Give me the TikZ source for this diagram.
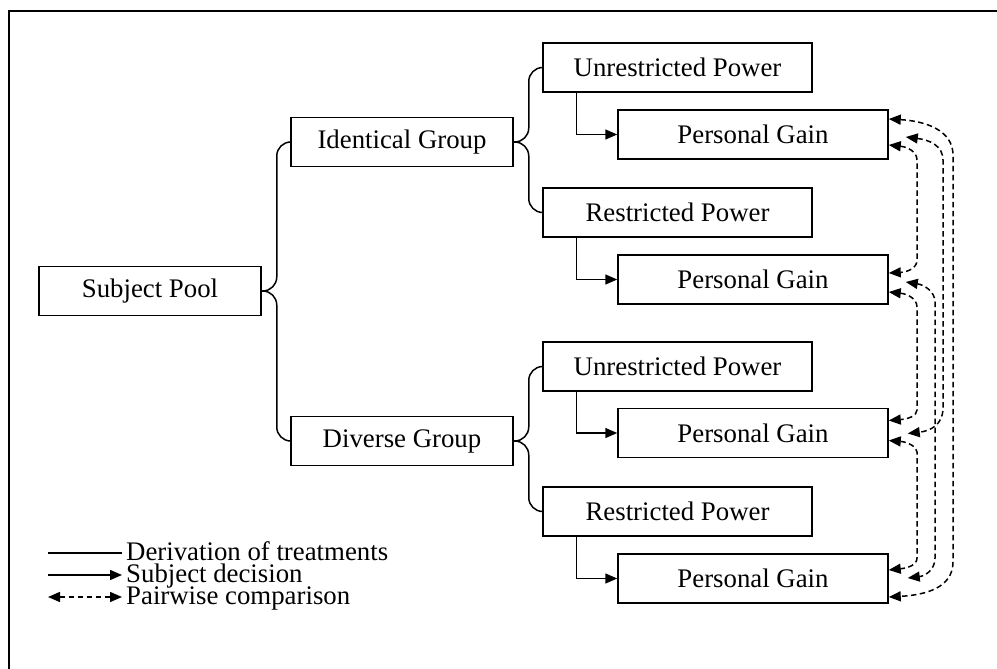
\documentclass[tikz,border=0pt]{standalone}
\usepackage{fontspec}
\setmainfont{Liberation Serif}
\usetikzlibrary{arrows.meta,calc}
\begin{document}
\begin{tikzpicture}[x=1pt,y=-1pt,
  every node/.style={font=\fontsize{26.8}{30}\selectfont},
  box/.style={draw,line width=1.5pt,inner sep=0pt,minimum height=49pt},
  bw/.style={box,minimum width=222pt},
  pw/.style={box,minimum width=269pt},
  gw/.style={box,minimum width=270pt},
  deriv/.style={line width=1.5pt,rounded corners=14pt},
  dec/.style={line width=1.5pt,-{Triangle[length=12pt,width=10pt]}},
  cmp/.style={line width=1.5pt,dash pattern=on 5.5pt off 3.5pt,{Triangle[length=12pt,width=10pt]}-{Triangle[length=12pt,width=10pt]}},
  lgtext/.style={anchor=base west,inner sep=0pt}
]
\useasboundingbox (0,0) rectangle (997,669);
% frame
\draw[line width=1.6pt] (9,669) -- (9,11) -- (997,11);

% nodes
\node[bw] (sp) at (150,291) {Subject Pool};
\node[bw] (ig) at (402,142) {Identical Group};
\node[bw] (dg) at (402,441) {Diverse Group};
\node[pw] (up1) at (677.5,67.5) {Unrestricted Power};
\node[pw] (rp1) at (677.5,212.5) {Restricted Power};
\node[pw] (up2) at (677.5,366.5) {Unrestricted Power};
\node[pw] (rp2) at (677.5,511.5) {Restricted Power};
\node[gw] (pg1) at (753,134.5) {Personal Gain};
\node[gw] (pg2) at (753,279.5) {Personal Gain};
\node[gw] (pg3) at (753,433) {Personal Gain};
\node[gw] (pg4) at (753,578.5) {Personal Gain};

% derivation braces
\draw[deriv] (ig.west) -| ($(sp.east)+(15,0)$) -- (sp.east);
\draw[deriv] (dg.west) -| ($(sp.east)+(15,0)$) -- (sp.east);
\draw[deriv] (up1.west) -| ($(ig.east)+(15,0)$) -- (ig.east);
\draw[deriv] (rp1.west) -| ($(ig.east)+(15,0)$) -- (ig.east);
\draw[deriv] (up2.west) -| ($(dg.east)+(15,0)$) -- (dg.east);
\draw[deriv] (rp2.west) -| ($(dg.east)+(15,0)$) -- (dg.east);

% subject decisions
\draw[dec] ($(up1.south west)+(34,0)$) |- (pg1.west);
\draw[dec] ($(rp1.south west)+(34,0)$) |- (pg2.west);
\draw[dec] ($(up2.south west)+(34,0)$) |- (pg3.west);
\draw[dec] ($(rp2.south west)+(34,0)$) |- (pg4.west);

% comparison end points
\coordinate (p1a) at ($(pg1.east)+(0,-15.5)$);
\coordinate (p1b) at ($(pg1.east)+(17,2.5)$);
\coordinate (p1c) at ($(pg1.east)+(0,10.5)$);
\coordinate (p2a) at ($(pg2.east)+(0,-6.5)$);
\coordinate (p2b) at ($(pg2.east)+(17,2.5)$);
\coordinate (p2c) at ($(pg2.east)+(0,12.5)$);
\coordinate (p3a) at ($(pg3.east)+(0,-12.5)$);
\coordinate (p3b) at ($(pg3.east)+(19,0.5)$);
\coordinate (p3c) at ($(pg3.east)+(0,7.5)$);
\coordinate (p4a) at ($(pg4.east)+(0,-8.5)$);
\coordinate (p4b) at ($(pg4.east)+(19,-0.5)$);
\coordinate (p4c) at ($(pg4.east)+(0,18.5)$);

% pairwise comparisons
\draw[cmp] (p1a) .. controls (925,121) and (953,130) .. (953,155) -- (953,562) .. controls (953,588) and (925,595) .. (p4c);
\draw[cmp] (p1b) .. controls (930,140) and (943,146) .. (943,160) -- (943,408) .. controls (943,425) and (930,431) .. (p3b);
\draw[cmp] (p1c) .. controls (908,147) and (917,152) .. (917,160) -- (917,260) .. controls (917,268) and (908,272) .. (p2a);
\draw[cmp] (p2b) .. controls (925,285) and (935,292) .. (935,302) -- (935,558) .. controls (935,570) and (925,576) .. (p4b);
\draw[cmp] (p2c) .. controls (908,294) and (917,299) .. (917,307) -- (917,410) .. controls (917,416) and (908,419) .. (p3a);
\draw[cmp] (p3c) .. controls (908,442) and (917,447) .. (917,452) -- (917,558) .. controls (917,565) and (908,568) .. (p4a);

% legend
\coordinate (l1a) at (48,553); \coordinate (l1b) at (122,553);
\coordinate (l2a) at (48,575); \coordinate (l2b) at (122,575);
\coordinate (l3a) at (48,597); \coordinate (l3b) at (122,597);
\draw[line width=1.3pt] (l1a) -- (l1b);
\draw[dec] (l2a) -- (l2b);
\draw[cmp] (l3a) -- (l3b);
\node[lgtext] (t1) at (126,560) {Derivation of treatments};
\node[lgtext] (t2) at (126,582) {Subject decision};
\node[lgtext] (t3) at (126,604) {Pairwise comparison};
\end{tikzpicture}
\end{document}
